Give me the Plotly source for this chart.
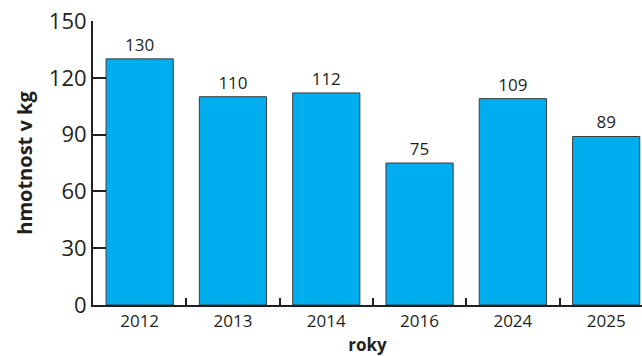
import plotly.graph_objects as go

# Hmotnost podle roku
roky = ["2012", "2013", "2014", "2016", "2024", "2025"]
hmotnost = [130, 110, 112, 75, 109, 89]
y_ticks = [0, 30, 60, 90, 120, 150]

ink = "#231f20"
font = "Open Sans"

fig = go.Figure(
    go.Bar(
        x=roky,
        y=hmotnost,
        text=[str(v) for v in hmotnost],
        textposition="outside",
        cliponaxis=False,
        textfont=dict(family=font, size=17, color=ink),
        marker=dict(color="#00aeef", line=dict(color="#3c3c3c", width=1)),
    )
)

fig.update_layout(
    width=642,
    height=356,
    margin=dict(l=93, r=0, t=21, b=51),
    paper_bgcolor="white",
    plot_bgcolor="white",
    bargap=0.28,
    showlegend=False,
    font=dict(family=font, color=ink),
)

fig.update_xaxes(
    type="category",
    range=[-0.5, 5.384],
    showline=True,
    linecolor=ink,
    linewidth=2,
    ticks="inside",
    tickson="boundaries",
    ticklen=7,
    tickwidth=2,
    tickcolor=ink,
    tickfont=dict(family=font, size=17, color=ink),
    showgrid=False,
    zeroline=False,
    title=dict(text="<b>roky</b>", font=dict(family=font, size=17, color=ink), standoff=9),
)

fig.update_yaxes(
    range=[0, 150],
    tickvals=y_ticks,
    showline=True,
    linecolor=ink,
    linewidth=2,
    ticks="inside",
    ticklen=13,
    tickwidth=2,
    tickcolor=ink,
    tickfont=dict(family=font, size=22, color=ink),
    showgrid=False,
    zeroline=False,
    title=dict(text="<b>hmotnost v kg</b>", font=dict(family=font, size=20, color=ink), standoff=11),
)

fig.write_html("out.html")
